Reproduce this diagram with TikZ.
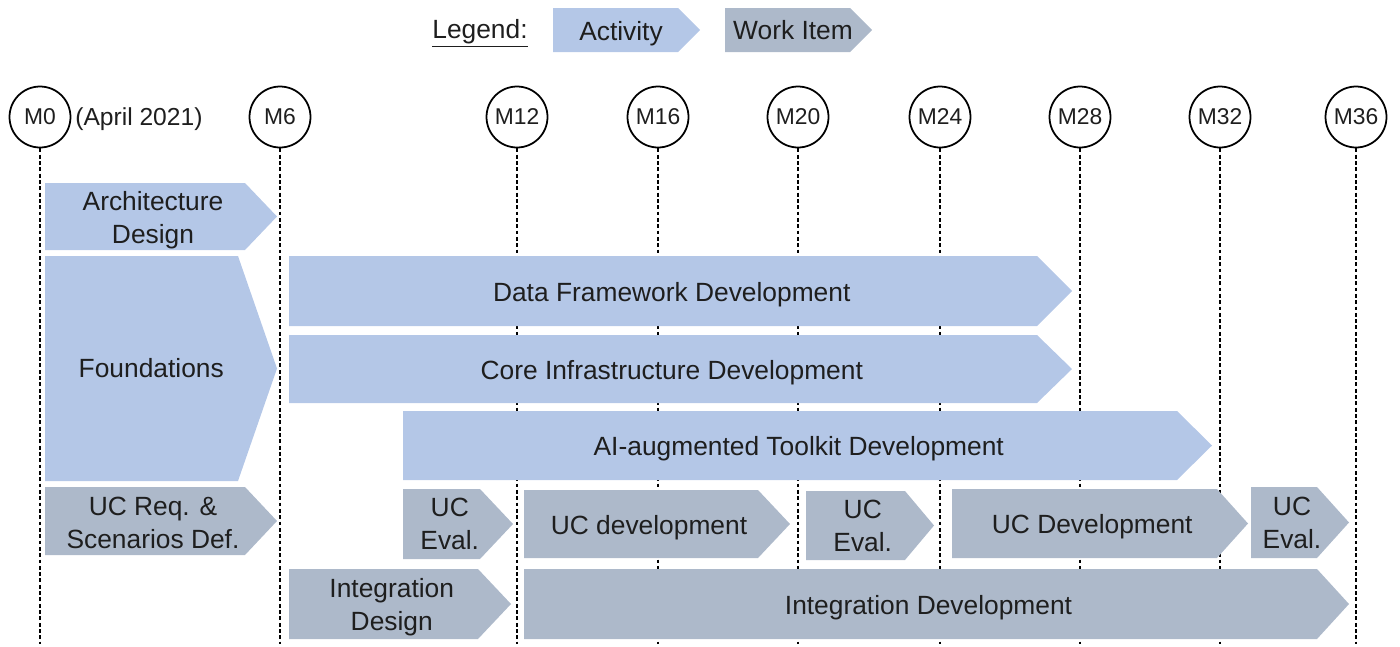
\documentclass[tikz,border=0pt]{standalone}
\usepackage{fontspec}
\setmainfont{Liberation Sans}
\usepackage{tikz}
\usetikzlibrary{positioning, calc}
\definecolor{actfill}{RGB}{180,199,231}
\definecolor{workfill}{RGB}{173,185,202}
\definecolor{txtcol}{RGB}{30,30,30}

% chevron: name, style, left, top, tip x, bottom, tip depth, text, label options
\newcommand{\chev}[9]{%
  \fill[#2] (#3,#4) -- ({#5-#7},#4) -- (#5,{(#4+#6)/2}) -- ({#5-#7},#6) -- (#3,#6) -- cycle;
  \node[lbl, #9] (#1) at ({(#3+#5-#7/2)/2},{(#4+#6)/2}) {#8};
}

\begin{document}
\begin{tikzpicture}[
        x=0.02cm, y=-0.02cm,
        lbl/.style={align=center, text=txtcol, inner sep=0pt, font=\fontsize{15}{18.8}\selectfont},
        low/.style={yshift=-2pt},
        act/.style={fill=actfill},
        work/.style={fill=workfill},
        mile/.style={draw, circle, line width=1pt, minimum size=1.22cm, inner sep=0pt, text=txtcol, font=\fontsize{13}{15}\selectfont},
        guide/.style={dash pattern=on 2.2pt off 1.4pt, line width=0.7pt}
    ]
    \useasboundingbox (0,0) rectangle (1400,646);

    % legend
    \node[lbl, low] (legend) at (480,30) {\underline{Legend:}};
    \chev{actkey}{act}{553}{8}{700}{52}{22}{Activity}{low}
    \chev{workkey}{work}{725}{8}{872}{52}{22}{Work Item}{}

    % milestones
    \foreach \m/\x in {0/40, 6/280, 12/517, 16/658, 20/798, 24/940, 28/1080, 32/1220, 36/1356} {
        \node[mile] (m\m) at (\x,117) {M\m};
        \coordinate (end\m) at (\x,644);
        \draw[guide] (m\m.south) -- (end\m);
    }
    \node[lbl, font=\fontsize{14}{16}\selectfont, anchor=west] (start) at (75,119) {(April 2021)};

    % activities
    \chev{arch}{act}{45}{183}{277}{250}{32}{Architecture\\Design}{low}
    \chev{found}{act}{45}{256}{277}{481}{39}{Foundations}{}
    \chev{data}{act}{289}{256}{1072}{326}{35}{Data Framework Development}{low}
    \chev{core}{act}{289}{335}{1072}{403}{35}{Core Infrastructure Development}{low}
    \chev{toolkit}{act}{403}{411}{1212}{480}{35}{AI-augmented Toolkit Development}{low}

    % work items
    \chev{ucreq}{work}{45}{487}{277}{555}{32}{UC Req. \&\\Scenarios Def.}{yshift=-1pt}
    \chev{evalA}{work}{403}{489}{513}{559}{33}{UC\\Eval.}{}
    \chev{devA}{work}{524}{490}{790}{558}{32}{UC development}{low}
    \chev{evalB}{work}{806}{491}{934}{560}{29}{UC\\Eval.}{}
    \chev{devB}{work}{952}{489}{1248}{558}{31}{UC Development}{low}
    \chev{evalC}{work}{1251}{487}{1349}{558}{32}{UC\\Eval.}{}
    \chev{intdes}{work}{289}{569}{511}{639}{33}{Integration\\Design}{low}
    \chev{intdev}{work}{524}{569}{1349}{639}{32}{Integration Development}{low}

\end{tikzpicture}
\end{document}
